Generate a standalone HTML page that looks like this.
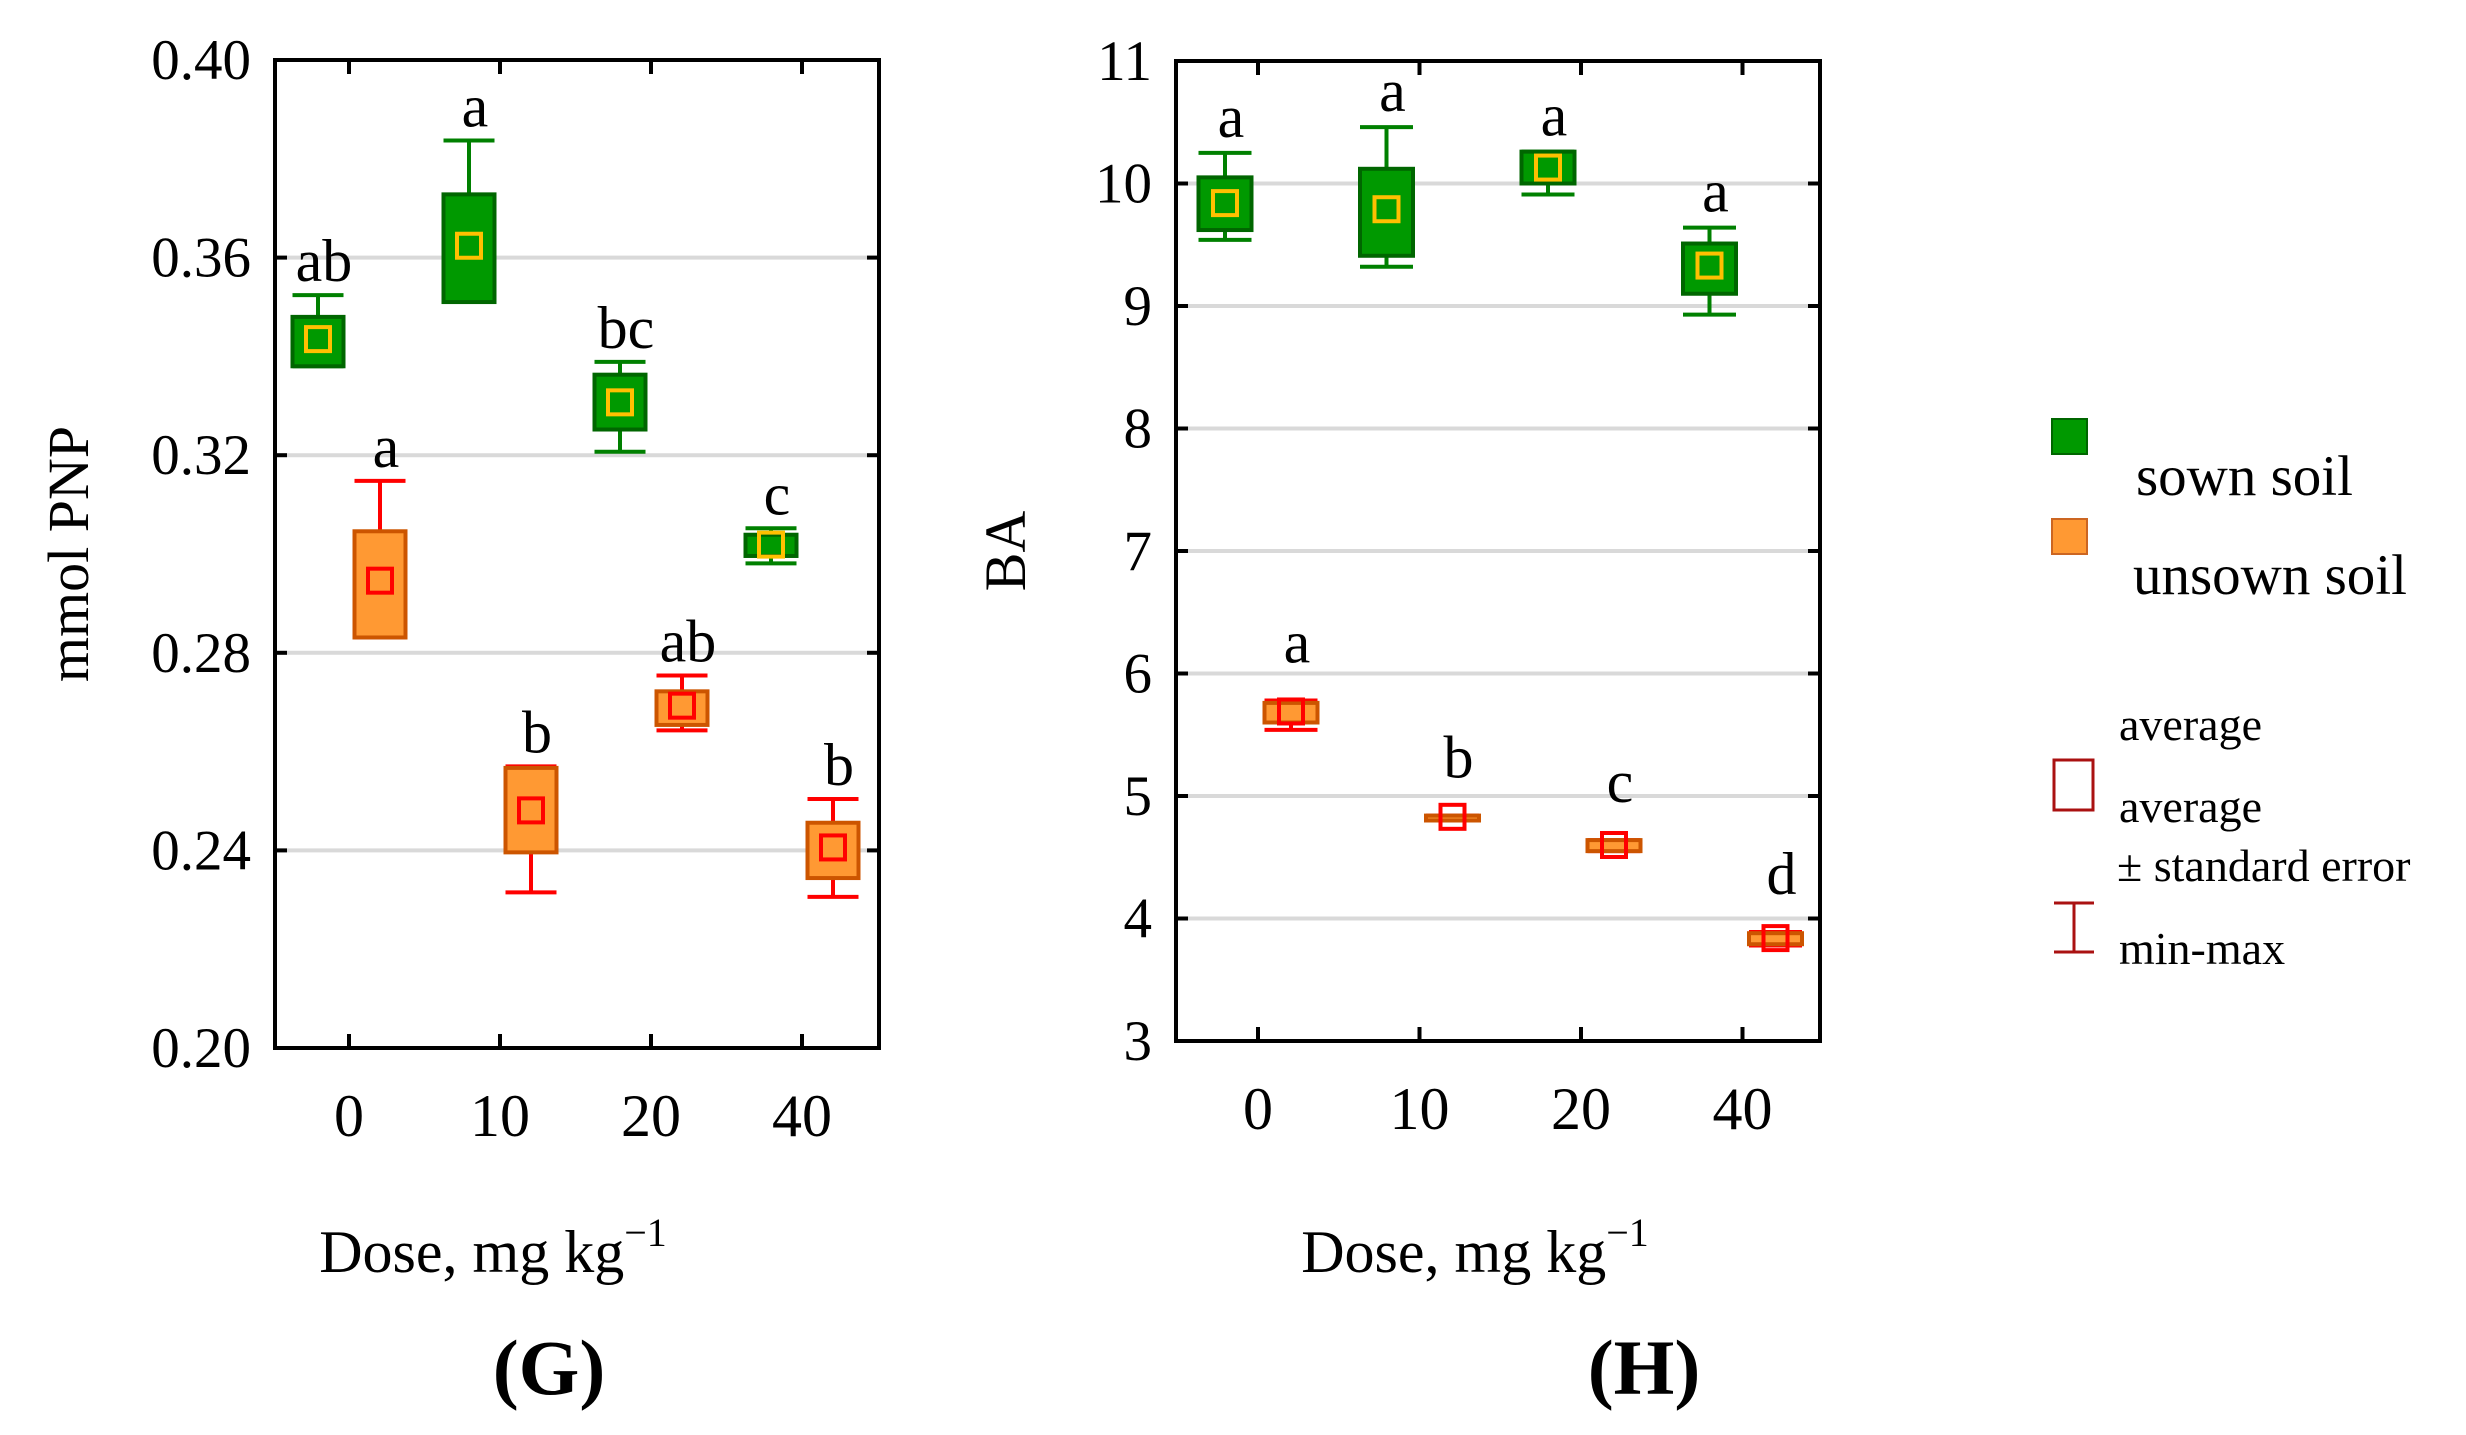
<!DOCTYPE html>
<html><head><meta charset="utf-8"><style>
html,body{margin:0;padding:0;background:#fff;}
svg{display:block;font-family:"Liberation Serif",serif;}
</style></head><body>
<svg id="s" width="2466" height="1435" viewBox="0 0 2466 1435" xmlns="http://www.w3.org/2000/svg">
<g id="legend">
<rect x="2052" y="419" width="35" height="35" fill="#009900" stroke="#006600" stroke-width="2"/>
<text x="2136" y="495" font-size="57">sown soil</text>
<rect x="2052" y="519" width="35" height="35" fill="#ff9933" stroke="#cc6622" stroke-width="2"/>
<text x="2133" y="594" font-size="57">unsown soil</text>
<text x="2119" y="740" font-size="46">average</text>
<rect x="2054" y="760" width="39" height="50" fill="none" stroke="#aa1111" stroke-width="3"/>
<text x="2119" y="822" font-size="46">average</text>
<text x="2117" y="881" font-size="46">± standard error</text>
<path d="M2054 903H2094M2074 903V952M2054 952H2094" stroke="#aa1111" stroke-width="3" fill="none"/>
<text x="2119" y="964" font-size="46">min-max</text>
</g>
</svg>
<script>
// Panel G
const catsG = ["0","10","20","40"];
const yTicksG = ["0.20","0.24","0.28","0.32","0.36","0.40"];
const sownMeanG = [0.3435,0.3624,0.3307,0.3019];
const sownBoxLoG = [0.338,0.351,0.3252,0.2996];
const sownBoxHiG = [0.348,0.3728,0.3363,0.3039];
const sownMinG = [0.338,0.351,0.3207,0.2981];
const sownMaxG = [0.3524,0.3837,0.3389,0.3052];
const sownLetG = ["ab","a","bc","c"];
const unMeanG = [0.2946,0.2481,0.2693,0.2406];
const unBoxLoG = [0.2831,0.2396,0.2654,0.2344];
const unBoxHiG = [0.3046,0.2567,0.2722,0.2456];
const unMinG = [0.2831,0.2315,0.2643,0.2306];
const unMaxG = [0.3148,0.257,0.2754,0.2504];
const unLetG = ["a","b","ab","b"];
// Panel H
const catsH = ["0","10","20","40"];
const yTicksH = ["3","4","5","6","7","8","9","10","11"];
const sownMeanH = [9.84,9.79,10.13,9.33];
const sownBoxLoH = [9.62,9.41,10.0,9.10];
const sownBoxHiH = [10.05,10.12,10.26,9.51];
const sownMinH = [9.54,9.32,9.91,8.93];
const sownMaxH = [10.25,10.46,10.26,9.64];
const sownLetH = ["a","a","a","a"];
const unMeanH = [5.69,4.83,4.60,3.84];
const unBoxLoH = [5.60,4.80,4.55,3.79];
const unBoxHiH = [5.76,4.84,4.64,3.88];
const unMinH = [5.54,4.80,4.55,3.78];
const unMaxH = [5.78,4.84,4.64,3.89];
const unLetH = ["a","b","c","d"];

const NS="http://www.w3.org/2000/svg";
const svg=document.getElementById('s');
function mk(tag,attrs,parent){const e=document.createElementNS(NS,tag);for(const k in attrs)e.setAttribute(k,attrs[k]);(parent||svg).appendChild(e);return e;}

function panel(p){
  const g=mk('g',{});
  
  
  const ymin=+p.yt[0], ymax=+p.yt[p.yt.length-1];
  const Y=v=>p.b-(v-ymin)/(ymax-ymin)*(p.b-p.t);
  const X=i=>p.x0+i*p.dx;
  p.yt.forEach((t,i)=>{
    const y=Y(+t);
    if(i>0&&i<p.yt.length-1){const gl=mk('line',{x1:p.l,x2:p.r,y1:y,y2:y,stroke:'#d9d9d9','stroke-width':4},g);
      
      }
    mk('line',{x1:p.l,x2:p.l+12,y1:y,y2:y,stroke:'#000','stroke-width':4},g);
    mk('line',{x1:p.r-12,x2:p.r,y1:y,y2:y,stroke:'#000','stroke-width':4},g);
    const tx=mk('text',{x:p.l-24,y:y+19,'font-size':57,'text-anchor':'end'},g);
    tx.textContent=t;
    
    
  });
  p.cats.forEach((c,i)=>{
    const x=X(i);
    mk('line',{x1:x,x2:x,y1:p.b,y2:p.b-14,stroke:'#000','stroke-width':4},g);
    mk('line',{x1:x,x2:x,y1:p.t,y2:p.t+14,stroke:'#000','stroke-width':4},g);
    const tx=mk('text',{x:x,y:p.b+88,'font-size':60,'text-anchor':'middle'},g);
    tx.textContent=c;
    
    
  });
  const series=[
    {off:-p.off,mean:p.sm,lo:p.slo,hi:p.shi,mn:p.smin,mx:p.smax,let:p.slet,gap:p.sgap,fill:'#009900',st:'#006600',wh:'#008000',mc:'#ffc000',nm:'sown'},
    {off:p.off,mean:p.um,lo:p.ulo,hi:p.uhi,mn:p.umin,mx:p.umax,let:p.ulet,gap:p.ugap,fill:'#ff9933',st:'#cc5500',wh:'#ff0000',mc:'#ff0000',nm:'unsown'}];
  series.forEach(s=>{
    s.mean.forEach((m,i)=>{
      const cx=X(i)+s.off, w=p.bw;
      const yMx=Y(s.mx[i]), yMn=Y(s.mn[i]), yHi=Y(s.hi[i]), yLo=Y(s.lo[i]);
      const wg=mk('path',{d:`M${cx-w/2} ${yMx}H${cx+w/2}M${cx} ${yMx}V${yMn}M${cx-w/2} ${yMn}H${cx+w/2}`,stroke:s.wh,'stroke-width':4,fill:'none'},g);
      
      
      const bx=mk('rect',{x:cx-w/2,y:yHi,width:w,height:Math.max(3,yLo-yHi),fill:s.fill,stroke:s.st,'stroke-width':4},g);
      
      
      const mr=mk('rect',{x:cx-12,y:Y(m)-12,width:24,height:24,fill:'none',stroke:s.mc,'stroke-width':4},g);
      
      
      const lt=mk('text',{x:cx+6,y:yMx-s.gap,'font-size':60,'text-anchor':'middle'},g);
      lt.textContent=s.let[i];
      
      
    });
  });
  const fr=mk('rect',{x:p.l,y:p.t,width:p.r-p.l,height:p.b-p.t,fill:'none',stroke:'#000','stroke-width':4},g);
  
  
  const yt=mk('text',{x:0,y:0,'font-size':58,'text-anchor':'middle',transform:`translate(${p.ytx},${(p.t+p.b)/2}) rotate(-90)`},g);
  yt.textContent=p.ytitle;
  
  
  const xt=mk('text',{x:p.xtc,y:1272,'font-size':60,'text-anchor':'middle'},g);
  xt.innerHTML='Dose, mg kg<tspan dy="-26" font-size="40">−1</tspan>';
  
  
  const pl=mk('text',{x:p.plx,y:1394,'font-size':78,'font-weight':'bold','text-anchor':'middle'},g);
  pl.textContent=p.label;
  
  
}
panel({name:'panel-g',l:275,r:879,t:60,b:1048,x0:349,dx:151,off:31,bw:51,yt:yTicksG,cats:catsG,
  sm:sownMeanG,slo:sownBoxLoG,shi:sownBoxHiG,smin:sownMinG,smax:sownMaxG,slet:sownLetG,
  um:unMeanG,ulo:unBoxLoG,uhi:unBoxHiG,umin:unMinG,umax:unMaxG,ulet:unLetG,sgap:14,ugap:14,
  ytitle:'mmol PNP',ytx:88,xtc:493,plx:549,label:'(G)'});
panel({name:'panel-h',l:1176,r:1820,t:61,b:1041,x0:1258,dx:161.5,off:33,bw:53,yt:yTicksH,cats:catsH,
  sm:sownMeanH,slo:sownBoxLoH,shi:sownBoxHiH,smin:sownMinH,smax:sownMaxH,slet:sownLetH,
  um:unMeanH,ulo:unBoxLoH,uhi:unBoxHiH,umin:unMinH,umax:unMaxH,ulet:unLetH,sgap:16,ugap:38,
  ytitle:'BA',ytx:1025,xtc:1475,plx:1644,label:'(H)'});
</script>
</body></html>
